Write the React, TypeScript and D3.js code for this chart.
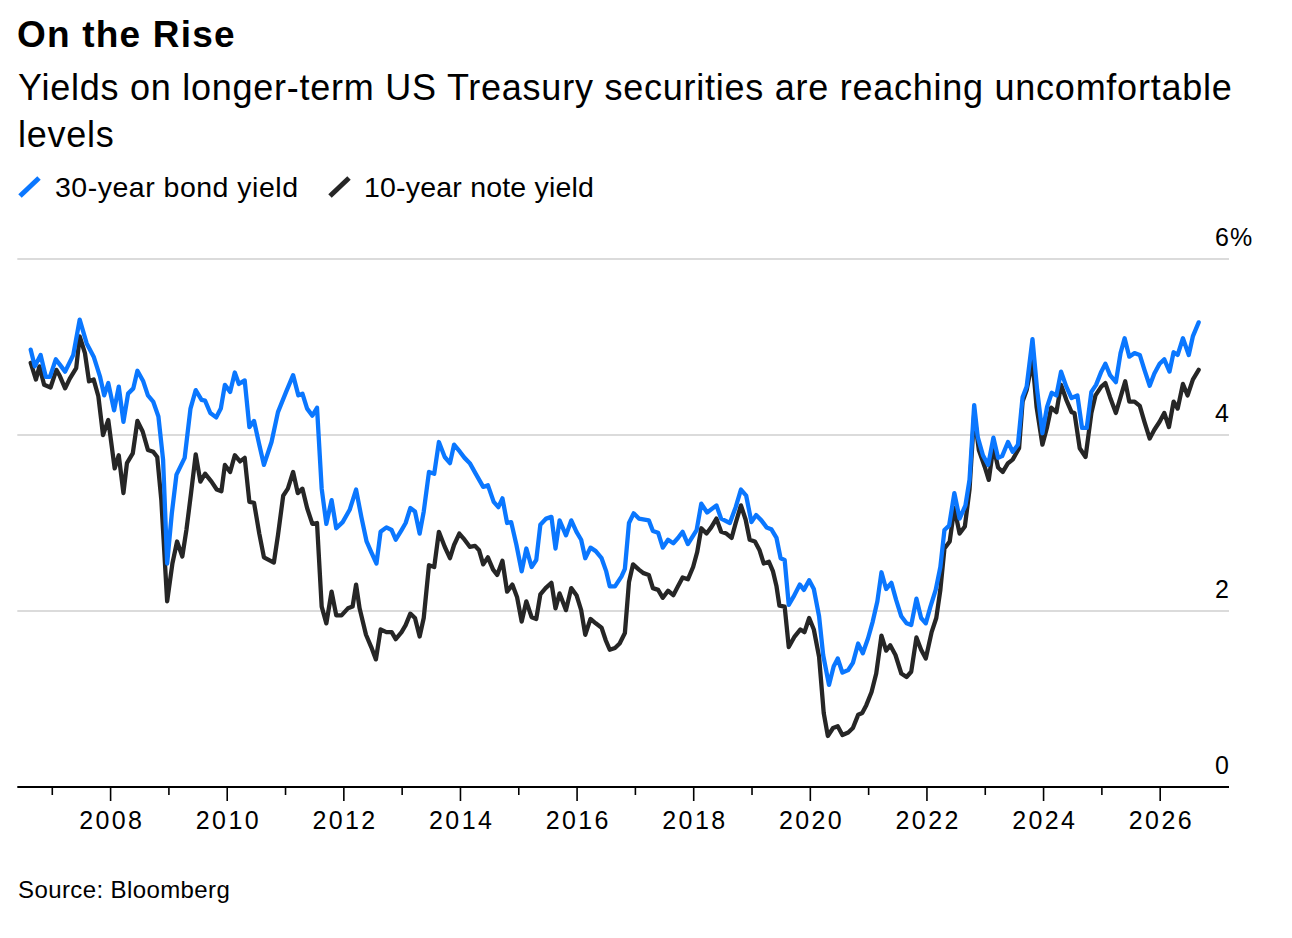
import * as d3 from "d3";

// 30-year bond yield, decimal years and percent
const bondDates = [
  2006.63, 2006.7, 2006.8, 2006.89, 2006.96, 2007.06, 2007.13, 2007.22, 2007.36, 2007.47,
  2007.59, 2007.71, 2007.82, 2007.89, 2007.96, 2008.06, 2008.14, 2008.22, 2008.3, 2008.39,
  2008.46, 2008.56, 2008.64, 2008.73, 2008.82, 2008.9, 2008.97, 2009.05, 2009.13, 2009.27,
  2009.37, 2009.46, 2009.56, 2009.62, 2009.71, 2009.81, 2009.89, 2009.96, 2010.05, 2010.13,
  2010.2, 2010.3, 2010.38, 2010.46, 2010.55, 2010.63, 2010.76, 2010.87, 2011.01, 2011.13,
  2011.22, 2011.29, 2011.37, 2011.46, 2011.54, 2011.62, 2011.7, 2011.79, 2011.87, 2011.98,
  2012.1, 2012.21, 2012.3, 2012.39, 2012.47, 2012.56, 2012.63, 2012.73, 2012.82, 2012.89,
  2012.99, 2013.06, 2013.14, 2013.22, 2013.3, 2013.37, 2013.46, 2013.55, 2013.63, 2013.73,
  2013.82, 2013.89, 2013.99, 2014.07, 2014.16, 2014.27, 2014.39, 2014.47, 2014.57, 2014.65,
  2014.72, 2014.8, 2014.87, 2014.96, 2015.05, 2015.13, 2015.22, 2015.3, 2015.37, 2015.47,
  2015.56, 2015.63, 2015.7, 2015.81, 2015.9, 2015.99, 2016.07, 2016.14, 2016.23, 2016.32,
  2016.42, 2016.5, 2016.56, 2016.65, 2016.76, 2016.82, 2016.89, 2016.97, 2017.06, 2017.23,
  2017.3, 2017.39, 2017.47, 2017.56, 2017.65, 2017.73, 2017.81, 2017.9, 2018.05, 2018.13,
  2018.23, 2018.39, 2018.47, 2018.62, 2018.72, 2018.81, 2018.9, 2018.99, 2019.07, 2019.16,
  2019.25, 2019.33, 2019.42, 2019.49, 2019.56, 2019.63, 2019.71, 2019.82, 2019.89, 2019.98,
  2020.06, 2020.15, 2020.22, 2020.32, 2020.4, 2020.47, 2020.55, 2020.65, 2020.73, 2020.82,
  2020.9, 2020.99, 2021.07, 2021.15, 2021.22, 2021.3, 2021.39, 2021.47, 2021.56, 2021.65,
  2021.73, 2021.82, 2021.9, 2021.98, 2022.06, 2022.15, 2022.23, 2022.3, 2022.38, 2022.47,
  2022.56, 2022.66, 2022.73, 2022.81, 2022.87, 2022.96, 2023.05, 2023.14, 2023.22, 2023.29,
  2023.39, 2023.47, 2023.56, 2023.64, 2023.71, 2023.81, 2023.89, 2023.98, 2024.06, 2024.14,
  2024.22, 2024.3, 2024.39, 2024.48, 2024.58, 2024.66, 2024.74, 2024.82, 2024.9, 2024.99,
  2025.06, 2025.14, 2025.24, 2025.32, 2025.39, 2025.47, 2025.56, 2025.65, 2025.73, 2025.82,
  2025.9, 2025.99, 2026.07, 2026.16, 2026.23, 2026.3, 2026.39, 2026.49, 2026.56, 2026.66,
];
const bondYield = [
  4.97, 4.78, 4.91, 4.66, 4.66, 4.86, 4.8, 4.72, 4.91, 5.31,
  5.04, 4.89, 4.66, 4.45, 4.59, 4.28, 4.55, 4.15, 4.47, 4.53,
  4.73, 4.61, 4.45, 4.38, 4.21, 3.72, 2.54, 3.11, 3.55, 3.74,
  4.3, 4.51, 4.4, 4.39, 4.25, 4.2, 4.3, 4.57, 4.49, 4.71,
  4.58, 4.62, 4.09, 4.16, 3.89, 3.66, 3.92, 4.26, 4.49, 4.68,
  4.45, 4.47, 4.3, 4.22, 4.31, 3.39, 2.99, 3.26, 2.94, 3.01,
  3.15, 3.38, 3.07, 2.79, 2.67, 2.54, 2.9, 2.95, 2.92, 2.81,
  2.92, 3.0, 3.17, 3.13, 2.88, 3.13, 3.58, 3.56, 3.92, 3.75,
  3.68, 3.89, 3.81, 3.74, 3.68, 3.55, 3.41, 3.43, 3.24, 3.18,
  3.28, 3.0, 3.01, 2.75, 2.45, 2.71, 2.5, 2.58, 2.98, 3.05,
  3.07, 2.71, 3.03, 2.86, 3.03, 2.9, 2.81, 2.6, 2.72, 2.68,
  2.6, 2.45, 2.28, 2.28, 2.39, 2.48, 3.0, 3.11, 3.05, 3.03,
  2.91, 2.89, 2.72, 2.81, 2.77, 2.83, 2.9, 2.76, 2.92, 3.22,
  3.12, 3.2, 3.05, 3.0, 3.18, 3.38, 3.31, 3.01, 3.09, 3.03,
  2.95, 2.93, 2.83, 2.6, 2.58, 2.07, 2.16, 2.3, 2.24, 2.35,
  2.25, 1.94, 1.5, 1.16, 1.37, 1.46, 1.3, 1.33, 1.41, 1.63,
  1.52, 1.69, 1.88, 2.11, 2.44, 2.25, 2.32, 2.13, 1.94, 1.86,
  1.84, 2.14, 1.92, 1.86, 2.05, 2.24, 2.5, 2.92, 2.97, 3.34,
  3.05, 3.2, 3.49, 4.34, 3.98, 3.77, 3.66, 3.97, 3.74, 3.76,
  3.92, 3.81, 3.89, 4.43, 4.55, 5.09, 4.51, 4.02, 4.32, 4.48,
  4.45, 4.72, 4.55, 4.42, 4.45, 4.08, 4.08, 4.49, 4.57, 4.72,
  4.81, 4.68, 4.6, 4.93, 5.1, 4.89, 4.93, 4.91, 4.74, 4.56,
  4.7, 4.81, 4.86, 4.72, 4.94, 4.91, 5.1, 4.91, 5.12, 5.28,
];

// 10-year note yield
const noteDates = [
  2006.63, 2006.72, 2006.78, 2006.86, 2006.97, 2007.07, 2007.13, 2007.22, 2007.3, 2007.41,
  2007.47, 2007.56, 2007.63, 2007.71, 2007.79, 2007.87, 2007.96, 2008.07, 2008.14, 2008.22,
  2008.28, 2008.38, 2008.46, 2008.55, 2008.64, 2008.73, 2008.8, 2008.87, 2008.97, 2009.06,
  2009.14, 2009.23, 2009.3, 2009.38, 2009.46, 2009.54, 2009.62, 2009.73, 2009.82, 2009.9,
  2009.96, 2010.05, 2010.13, 2010.22, 2010.3, 2010.38, 2010.46, 2010.55, 2010.63, 2010.8,
  2010.87, 2010.96, 2011.04, 2011.13, 2011.21, 2011.29, 2011.37, 2011.46, 2011.54, 2011.62,
  2011.7, 2011.79, 2011.87, 2011.96, 2012.07, 2012.15, 2012.21, 2012.27, 2012.38, 2012.47,
  2012.55, 2012.63, 2012.73, 2012.82, 2012.89, 2012.99, 2013.06, 2013.14, 2013.22, 2013.3,
  2013.37, 2013.46, 2013.55, 2013.63, 2013.73, 2013.82, 2013.89, 2013.98, 2014.07, 2014.16,
  2014.25, 2014.32, 2014.39, 2014.47, 2014.56, 2014.63, 2014.72, 2014.8, 2014.89, 2014.97,
  2015.05, 2015.13, 2015.22, 2015.3, 2015.37, 2015.46, 2015.56, 2015.63, 2015.7, 2015.81,
  2015.9, 2015.99, 2016.07, 2016.14, 2016.23, 2016.32, 2016.42, 2016.49, 2016.56, 2016.65,
  2016.73, 2016.82, 2016.89, 2016.96, 2017.06, 2017.14, 2017.23, 2017.3, 2017.39, 2017.47,
  2017.56, 2017.65, 2017.73, 2017.81, 2017.9, 2017.99, 2018.06, 2018.13, 2018.22, 2018.3,
  2018.39, 2018.47, 2018.56, 2018.65, 2018.72, 2018.81, 2018.89, 2018.96, 2019.05, 2019.13,
  2019.2, 2019.29, 2019.36, 2019.42, 2019.47, 2019.56, 2019.63, 2019.73, 2019.83, 2019.9,
  2019.98, 2020.06, 2020.15, 2020.23, 2020.3, 2020.39, 2020.47, 2020.55, 2020.65, 2020.73,
  2020.82, 2020.89, 2020.96, 2021.05, 2021.13, 2021.22, 2021.3, 2021.37, 2021.46, 2021.56,
  2021.65, 2021.73, 2021.82, 2021.9, 2021.98, 2022.08, 2022.16, 2022.23, 2022.3, 2022.39,
  2022.47, 2022.56, 2022.65, 2022.73, 2022.81, 2022.89, 2022.99, 2023.06, 2023.14, 2023.22,
  2023.3, 2023.39, 2023.47, 2023.58, 2023.64, 2023.71, 2023.81, 2023.88, 2023.98, 2024.06,
  2024.13, 2024.22, 2024.3, 2024.39, 2024.48, 2024.53, 2024.62, 2024.72, 2024.82, 2024.89,
  2024.99, 2025.06, 2025.14, 2025.24, 2025.32, 2025.4, 2025.47, 2025.56, 2025.65, 2025.73,
  2025.82, 2025.9, 2025.99, 2026.07, 2026.15, 2026.23, 2026.3, 2026.39, 2026.47, 2026.56,
  2026.66,
];
const noteYield = [
  4.82, 4.63, 4.78, 4.57, 4.54, 4.74, 4.67, 4.53, 4.64, 4.76,
  5.12, 4.93, 4.61, 4.63, 4.44, 4.0, 4.17, 3.62, 3.77, 3.34,
  3.68, 3.79, 4.16, 4.04, 3.83, 3.81, 3.75, 3.26, 2.11, 2.54,
  2.79, 2.62, 2.92, 3.34, 3.78, 3.47, 3.56, 3.47, 3.38, 3.36,
  3.66, 3.58, 3.77, 3.7, 3.74, 3.24, 3.23, 2.88, 2.61, 2.55,
  2.86, 3.31, 3.39, 3.58, 3.34, 3.39, 3.17, 2.99, 3.0, 2.05,
  1.86, 2.22, 1.95, 1.95, 2.03, 2.05, 2.3, 2.03, 1.73, 1.59,
  1.45, 1.79, 1.76, 1.76, 1.68, 1.76, 1.84, 1.97, 1.92, 1.71,
  1.92, 2.52, 2.5, 2.9, 2.73, 2.6, 2.75, 2.88, 2.81, 2.73,
  2.74, 2.69, 2.53, 2.61, 2.47, 2.41, 2.57, 2.22, 2.3, 2.16,
  1.88, 2.11, 1.93, 1.91, 2.19, 2.26, 2.32, 2.03, 2.2, 2.01,
  2.26, 2.18, 2.01, 1.73, 1.91, 1.86, 1.81, 1.67, 1.56, 1.58,
  1.63, 1.75, 2.33, 2.53, 2.47, 2.43, 2.41, 2.26, 2.24, 2.15,
  2.23, 2.18, 2.28, 2.38, 2.36, 2.5, 2.67, 2.94, 2.88, 2.95,
  3.05, 2.9, 2.88, 2.83, 3.0, 3.2, 3.04, 2.81, 2.79, 2.69,
  2.54, 2.56, 2.45, 2.28, 2.06, 2.05, 1.59, 1.71, 1.79, 1.76,
  1.92, 1.79, 1.48, 0.84, 0.58, 0.67, 0.69, 0.59, 0.62, 0.67,
  0.82, 0.84, 0.93, 1.08, 1.29, 1.72, 1.55, 1.61, 1.5, 1.29,
  1.25, 1.31, 1.7, 1.56, 1.46, 1.76, 1.92, 2.24, 2.71, 2.79,
  3.17, 2.88, 2.96, 3.38, 4.24, 3.83, 3.64, 3.49, 3.87, 3.63,
  3.58, 3.68, 3.72, 3.85, 4.38, 4.51, 4.85, 4.32, 3.89, 4.09,
  4.31, 4.26, 4.57, 4.4, 4.26, 4.25, 3.85, 3.75, 4.25, 4.45,
  4.55, 4.59, 4.43, 4.25, 4.43, 4.61, 4.38, 4.38, 4.33, 4.15,
  3.96, 4.06, 4.15, 4.25, 4.09, 4.38, 4.3, 4.58, 4.45, 4.63,
  4.74,
];

const yTicks = [0, 2, 4, 6];
const xYears = d3.range(2007, 2027);

const FONT = "'Liberation Sans', Arial, Helvetica, sans-serif";
const BLUE = "#0a77ff";
const BLACK = "#262626";

export default function App() {
  const width = 1292;
  const height = 938;

  const x = d3.scaleLinear().domain([2006.4, 2027.18]).range([17.3, 1229]);
  const y = d3.scaleLinear().domain([0, 6]).range([787, 259]);

  const line = d3
    .line<[number, number]>()
    .x((d) => x(d[0]))
    .y((d) => y(d[1]));

  const bond = bondDates.map((d, i) => [d, bondYield[i]] as [number, number]);
  const note = noteDates.map((d, i) => [d, noteYield[i]] as [number, number]);

  return (
    <svg
      width={width}
      height={height}
      style={{ position: "absolute", left: 0, top: 0, display: "block", background: "#fff" }}
      fontFamily={FONT}
    >
      {/* Header */}
      <text x={17} y={47} fontSize={37} fontWeight="bold" letterSpacing={1.2} fill="#000">
        On the Rise
      </text>
      <text x={18} y={100} fontSize={36} letterSpacing={0.75} fill="#000">
        Yields on longer-term US Treasury securities are reaching uncomfortable
      </text>
      <text x={18} y={146.5} fontSize={36} letterSpacing={0.75} fill="#000">
        levels
      </text>

      {/* Legend */}
      <g>
        <line x1={20} y1={196} x2={39} y2={178} stroke={BLUE} strokeWidth={5} />
        <text x={55} y={197} fontSize={28.5} letterSpacing={0.5} fill="#000">
          30-year bond yield
        </text>
        <line x1={330} y1={196} x2={349} y2={178} stroke={BLACK} strokeWidth={5} />
        <text x={364} y={197} fontSize={28.5} letterSpacing={0.2} fill="#000">
          10-year note yield
        </text>
      </g>

      {/* Gridlines */}
      {yTicks
        .filter((t) => t > 0)
        .map((t) => (
          <line
            key={t}
            x1={x.range()[0]}
            x2={x.range()[1]}
            y1={y(t)}
            y2={y(t)}
            stroke="#cfcfcf"
            strokeWidth={1.6}
          />
        ))}

      {/* Y labels */}
      {yTicks.map((t) => (
        <text
          key={t}
          x={x.range()[1]}
          y={y(t) - 13.5}
          fontSize={25}
          textAnchor="end"
          fill="#000"
        >
          {t}
        </text>
      ))}
      <text x={x.range()[1] + 1} y={y(6) - 13.5} fontSize={25} fill="#000">
        %
      </text>

      {/* Lines */}
      <path
        d={line(note) || ""}
        fill="none"
        stroke={BLACK}
        strokeWidth={4.3}
        strokeLinejoin="round"
        strokeLinecap="round"
      />
      <path
        d={line(bond) || ""}
        fill="none"
        stroke={BLUE}
        strokeWidth={4.3}
        strokeLinejoin="round"
        strokeLinecap="round"
      />

      {/* X axis */}
      <line x1={x.range()[0]} x2={x.range()[1]} y1={y(0)} y2={y(0)} stroke="#000" strokeWidth={2} />
      {xYears.map((yr) => {
        const major = yr % 2 === 0;
        return (
          <g key={yr} transform={`translate(${x(yr)},${y(0)})`}>
            <line y1={0} y2={major ? 14 : 8} stroke="#000" strokeWidth={1.6} />
            {major && (
              <text y={42} dx={1.2} fontSize={25} letterSpacing={2.4} textAnchor="middle" fill="#000">
                {yr}
              </text>
            )}
          </g>
        );
      })}

      {/* Source */}
      <text x={18} y={898} fontSize={24} letterSpacing={0.4} fill="#000">
        Source: Bloomberg
      </text>
    </svg>
  );
}
